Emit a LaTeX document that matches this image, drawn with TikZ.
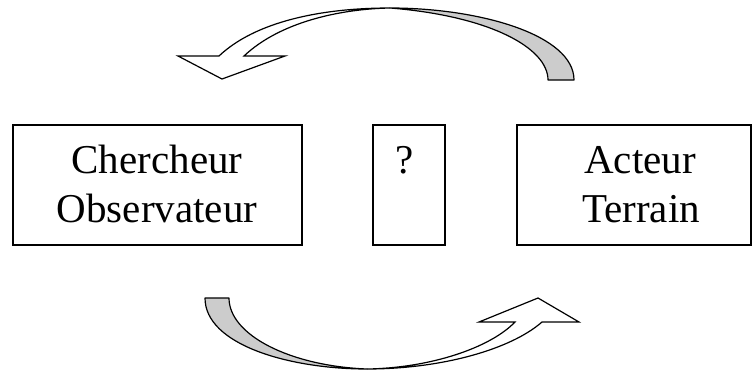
\documentclass[tikz,border=0pt]{standalone}
\usepackage{fontspec}
\setmainfont{Liberation Serif}
\begin{document}
\begin{tikzpicture}[x=1pt,y=-1pt,
  boxstyle/.style={draw=black, line width=1.6pt, fill=white, inner sep=0pt},
  txt/.style={font=\fontsize{41}{48}\selectfont, inner sep=0pt, anchor=base},
  backpart/.style={draw=black, line width=1.2pt, fill=black!20, line join=round},
  frontpart/.style={draw=black, line width=1.2pt, fill=white, line join=miter}]
\useasboundingbox (0,0) rectangle (752,372);
% boxes
\node[boxstyle, minimum width=289pt, minimum height=120pt] (left) at (157.5,185) {};
\node[boxstyle, minimum width=72pt, minimum height=120pt] (mid) at (409,185) {};
\path[boxstyle] (517,125) rectangle (751,245);
\coordinate (rightc) at (634,185);
% texts
\node[txt] (t1) at (157,173) {Chercheur};
\node[txt] (t2) at (157,222) {Observateur};
\node[txt] (q) at (405,173) {?};
\node[txt] (t3) at (640,173) {Acteur};
\node[txt] (t4) at (641,222) {Terrain};
% top curved arrow
\path[backpart] (574,80) -- (548,80) .. controls (548,48) and (490,16) .. (390,8)
  .. controls (480,8) and (574,35) .. (574,80) -- cycle;
\path[frontpart] (219,56) -- (178,56) -- (222,79) -- (285,56) -- (244,56)
  .. controls (280,22) and (340,9) .. (390,8)
  .. controls (320,8) and (255,22) .. (219,56) -- cycle;
% bottom curved arrow
\path[backpart] (205,298) -- (229,298) .. controls (229,335) and (290,366) .. (367,369)
  .. controls (290,369) and (205,345) .. (205,298) -- cycle;
\path[frontpart] (542,322) -- (579,322) -- (538,298) -- (479,322) -- (515,322)
  .. controls (490,348) and (430,368) .. (367,369)
  .. controls (440,369) and (510,350) .. (542,322) -- cycle;
\end{tikzpicture}
\end{document}
